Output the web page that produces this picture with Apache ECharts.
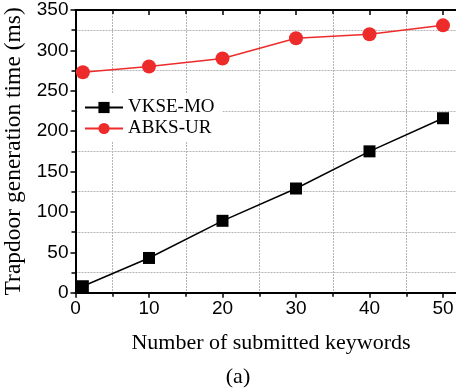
<!DOCTYPE html>
<html><head><meta charset="utf-8">
<script src="https://cdn.jsdelivr.net/npm/echarts@6/dist/echarts.min.js"></script>
<style>html,body{margin:0;padding:0;background:#fff}#c{width:456px;height:392px}</style>
</head><body><div id="c"></div>
<script>
var keywords = [1, 10, 20, 30, 40, 50];
var vkseMO = [8, 43, 89, 129, 175, 216];
var abksUR = [273, 280, 290, 315, 320, 331];
var seriesNames = ['VKSE-MO', 'ABKS-UR'];
var xTitle = 'Number of submitted keywords';
var yTitle = 'Trapdoor generation time (ms)';
var caption = '(a)';

function pairs(xs, ys){ return xs.map(function(x,i){return [x, ys[i]];}); }

var chart = echarts.init(document.getElementById('c'), null, {renderer:'canvas'});
var tickFont = {fontFamily:'Liberation Sans', fontSize:19, color:'#000'};
var serifTitle = {fontFamily:'Liberation Serif', fontWeight:'normal', color:'#000'};
chart.setOption({
  animation:false,
  backgroundColor:'#fff',
  grid:{left:75.5, top:10, height:282.7, width:441, containLabel:false, outerBoundsMode:'none'},
  title:[
    {text:caption, left:233, top:361, textAlign:'center',
     textStyle:Object.assign({fontSize:22}, serifTitle)},
    {text:xTitle, left:266, top:327, textAlign:'center',
     textStyle:Object.assign({fontSize:22}, serifTitle)}
  ],
  legend:{
    left:78, top:94, orient:'vertical', itemGap:2, itemWidth:38, itemHeight:14,
    backgroundColor:'#fff', padding:[4,8,4,6],
    textStyle:{fontFamily:'Liberation Serif', fontSize:19, color:'#000'},
    data:seriesNames
  },
  xAxis:[{
    type:'value', min:0, max:60, interval:10, position:'bottom',
    axisLine:{show:true, onZero:false, lineStyle:{color:'#000', width:2}},
    axisTick:{show:true, inside:false, length:5, lineStyle:{color:'#000', width:1.5}},
    minorTick:{show:true, splitNumber:2, length:4, lineStyle:{color:'#000', width:1.5}},
    axisLabel:Object.assign({margin:7}, tickFont),
    splitLine:{show:false},
    minorSplitLine:{show:true, lineStyle:{color:'#b4b4b4', type:[2,1], width:1}}
  },{
    type:'value', min:0, max:60, interval:10, position:'top',
    axisLine:{show:true, onZero:false, lineStyle:{color:'#000', width:2}},
    axisTick:{show:true, inside:true, length:5, lineStyle:{color:'#000', width:1.5}},
    minorTick:{show:true, splitNumber:2, length:4, lineStyle:{color:'#000', width:1.5}},
    axisLabel:{show:false}, splitLine:{show:false}
  }],
  yAxis:{
    type:'value', min:0, max:350, interval:50,
    name:yTitle, nameLocation:'middle', nameGap:48,
    nameTextStyle:{fontFamily:'Liberation Serif', fontSize:23.5, color:'#000'},
    axisLine:{show:true, onZero:false, lineStyle:{color:'#000', width:2}},
    axisTick:{show:true, inside:false, length:5, lineStyle:{color:'#000', width:1.5}},
    minorTick:{show:true, splitNumber:2, length:4, lineStyle:{color:'#000', width:1.5}},
    axisLabel:Object.assign({margin:7}, tickFont),
    splitLine:{show:false},
    minorSplitLine:{show:true, lineStyle:{color:'#b4b4b4', type:[2,1], width:1}}
  },
  series:[{
    name:seriesNames[0], type:'line', data:pairs(keywords, vkseMO),
    symbol:'rect', symbolSize:12, showAllSymbol:true,
    lineStyle:{color:'#000', width:1.5}, itemStyle:{color:'#000'}
  },{
    name:seriesNames[1], type:'line', data:pairs(keywords, abksUR),
    symbol:'circle', symbolSize:14, showAllSymbol:true,
    lineStyle:{color:'#ee2b2b', width:1.5}, itemStyle:{color:'#ee2b2b'}
  }]
});
</script></body></html>
